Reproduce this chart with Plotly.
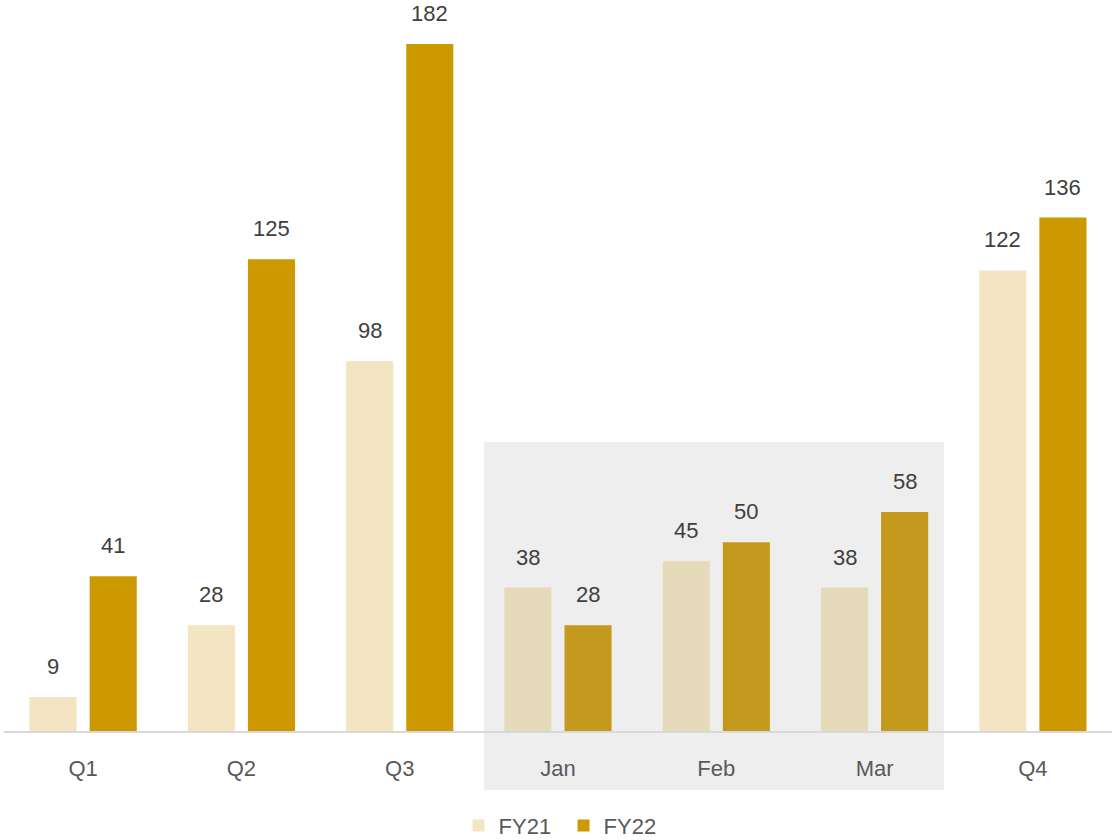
import plotly.graph_objects as go

categories = ["Q1", "Q2", "Q3", "Jan", "Feb", "Mar", "Q4"]
fy21 = [9, 28, 98, 38, 45, 38, 122]
fy22 = [41, 125, 182, 28, 50, 58, 136]
highlighted = ["Jan", "Feb", "Mar"]

c21, c21h = "#f3e5c1", "#e5dab9"
c22, c22h = "#cc9900", "#c49a1e"
col21 = [c21h if c in highlighted else c21 for c in categories]
col22 = [c22h if c in highlighted else c22 for c in categories]

FONT = "Liberation Sans, Arial, sans-serif"

fig = go.Figure()
fig.add_trace(go.Bar(name="FY21", x=categories, y=fy21, marker=dict(color=col21, line=dict(width=0)),
                     offsetgroup="a", hoverinfo="skip"))
fig.add_trace(go.Bar(name="FY22", x=categories, y=fy22, marker=dict(color=col22, line=dict(width=0)),
                     offsetgroup="b", hoverinfo="skip"))

# value labels above each bar
for vals, off in ((fy21, -30), (fy22, 30)):
    for c, v in zip(categories, vals):
        fig.add_annotation(x=c, y=v, xshift=off, yshift=16, text=str(v), showarrow=False,
                           yanchor="bottom", xanchor="center",
                           font=dict(family=FONT, size=22, color="#404040"))

# highlight band behind Jan-Mar
fig.add_shape(type="rect", xref="paper", yref="paper", x0=0.4332, x1=0.8484, y0=-0.082, y1=0.401,
              fillcolor="#eeeeee", line=dict(width=0), layer="below")

fig.update_layout(
    width=1112, height=840,
    margin=dict(l=4, r=0, t=10, b=109, autoexpand=False),
    paper_bgcolor="white", plot_bgcolor="rgba(0,0,0,0)",
    barmode="group", bargap=0.24, bargroupgap=0.217,
    showlegend=True,
    legend=dict(orientation="h", x=0.505, xanchor="center", yref="container", y=0.017, yanchor="middle",
                font=dict(family=FONT, size=22, color="#595959"),
                traceorder="normal", entrywidth=60),
    font=dict(family=FONT, size=22, color="#595959"),
)
fig.update_xaxes(showline=True, linecolor="#d9d9d9", linewidth=2, ticks="", showgrid=False,
                 tickfont=dict(size=22, color="#595959"), ticklabelstandoff=17)
fig.update_yaxes(range=[0, 191], visible=False, showgrid=False, zeroline=False)

fig.write_html("out.html", config={"displayModeBar": False},
               post_script="document.body.style.margin='0';document.body.style.padding='0';")
